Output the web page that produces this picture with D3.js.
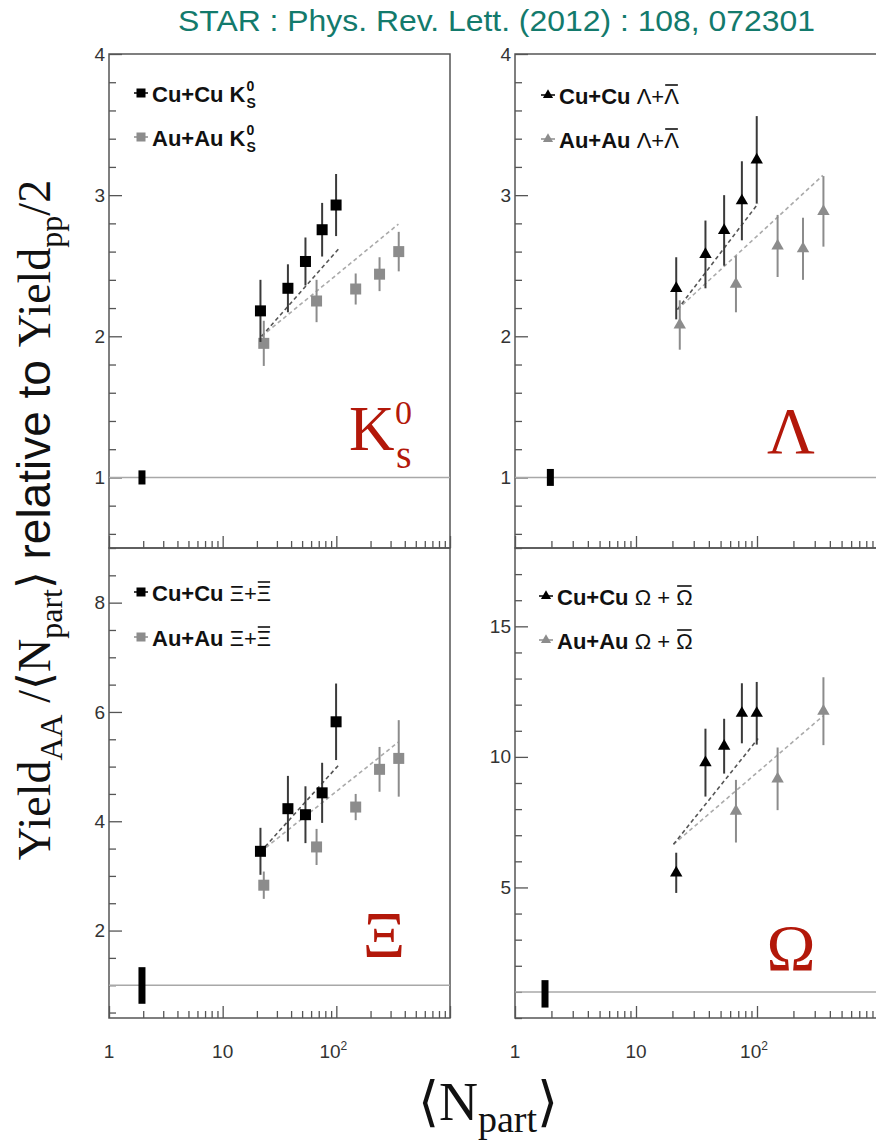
<!DOCTYPE html>
<html><head><meta charset="utf-8">
<script src="https://cdn.jsdelivr.net/npm/d3@7"></script>
<style>body{margin:0;background:#fff}svg{display:block}</style>
</head><body>
<script>
// ---- data ----
const cuNpart = [21.5, 37.5, 53.5, 75, 99.5];
const auNpart = [23, 67, 148, 240, 354];
const auNpartOmega = [67, 148, 354];

const k0Cu = [2.18, 2.34, 2.53, 2.755, 2.93];
const k0CuErr = [0.22, 0.17, 0.17, 0.19, 0.22];
const k0Au = [1.95, 2.25, 2.335, 2.44, 2.60];
const k0AuErr = [0.16, 0.15, 0.11, 0.12, 0.14];

const lamCu = [2.34, 2.58, 2.75, 2.96, 3.25];
const lamCuErr = [0.22, 0.24, 0.25, 0.28, 0.31];
const lamAu = [2.08, 2.37, 2.64, 2.62, 2.885];
const lamAuErr = [0.175, 0.2, 0.22, 0.22, 0.25];

const xiCu = [3.45, 4.23, 4.12, 4.52, 5.82];
const xiCuErr = [0.43, 0.6, 0.52, 0.55, 0.7];
const xiAu = [2.83, 3.53, 4.26, 4.95, 5.15];
const xiAuErr = [0.25, 0.33, 0.24, 0.41, 0.7];

const omCu = [5.56, 9.78, 10.41, 11.67, 11.67];
const omCuErr = [0.77, 1.3, 1.05, 1.15, 1.2];
const omAu = [7.92, 9.16, 11.75];
const omAuErr = [1.2, 1.2, 1.3];

// scaling lines [Npart, value] endpoints
const k0CuLine = [[22, 2.0], [105, 2.62]];
const k0AuLine = [[22, 2.0], [352, 2.795]];
const lamCuLine = [[22, 2.19], [102, 2.94]];
const lamAuLine = [[22, 2.19], [350, 3.14]];
const xiCuLine = [[21.5, 3.44], [105, 5.03]];
const xiAuLine = [[21.5, 3.44], [352, 5.45]];
const omCuLine = [[20.4, 6.65], [102, 10.7]];
const omAuLine = [[20.4, 6.65], [350, 11.56]];

// normalisation uncertainty boxes [Npart, low, high]
const k0Norm = [1.95, 0.95, 1.05];
const lamNorm = [1.96, 0.94, 1.06];
const xiNorm = [1.95, 0.66, 1.33];
const omNorm = [1.77, 0.4, 1.45];

const xTickValues = [1, 10, 100];
const xTickLabels = ["1", "10", "10|2"];
const k0YTicks = [1, 2, 3, 4];
const lamYTicks = [1, 2, 3, 4];
const xiYTicks = [2, 4, 6, 8];
const omYTicks = [5, 10, 15];

const titleText = "STAR : Phys. Rev. Lett. (2012) : 108, 072301";

// ---- drawing ----
const W = 876, H = 1142;
const svg = d3.select("body").append("svg").attr("width", W).attr("height", H);

const SANS = "'Liberation Sans', Arial, Helvetica, sans-serif";
const SERIF = "'Liberation Serif', 'Times New Roman', serif";
const RED = "#b3180a";
const GRAY = "#8c8c8c";

svg.append("text").attr("x", 178).attr("y", 31)
  .attr("font-family", SANS).attr("font-size", 29).attr("fill", "#137a6c")
  .attr("textLength", 637).attr("lengthAdjust", "spacingAndGlyphs")
  .text(titleText);

const panels = [
  {x0:109, x1:450, y0:54, y1:548, xDom:[1,1000], yDom:[0.5,4], yTicks:k0YTicks, yMinor:0.2,
   cu:k0Cu, cuErr:k0CuErr, au:k0Au, auErr:k0AuErr, auN:auNpart, cuLine:k0CuLine, auLine:k0AuLine,
   norm:k0Norm, shape:"square", xLabels:false, particle:"K0", legX:141, legY:[93,137]},
  {x0:515, x1:878, y0:54, y1:548, xDom:[1,1000], yDom:[0.5,4], yTicks:lamYTicks, yMinor:0.2,
   cu:lamCu, cuErr:lamCuErr, au:lamAu, auErr:lamAuErr, auN:auNpart, cuLine:lamCuLine, auLine:lamAuLine,
   norm:lamNorm, shape:"triangle", xLabels:false, particle:"Lam", legX:548, legY:[95,139]},
  {x0:109, x1:450, y0:548, y1:1018, xDom:[1,1000], yDom:[0.4,9], yTicks:xiYTicks, yMinor:0.5,
   cu:xiCu, cuErr:xiCuErr, au:xiAu, auErr:xiAuErr, auN:auNpart, cuLine:xiCuLine, auLine:xiAuLine,
   norm:xiNorm, shape:"square", xLabels:true, particle:"Xi", legX:141, legY:[592,637]},
  {x0:515, x1:878, y0:548, y1:1018, xDom:[1,1000], yDom:[0,18], yTicks:omYTicks, yMinor:1,
   cu:omCu, cuErr:omCuErr, au:omAu, auErr:omAuErr, auN:auNpartOmega, cuLine:omCuLine, auLine:omAuLine,
   norm:omNorm, shape:"triangle", xLabels:true, particle:"Om", legX:546, legY:[596,640]}
];

function minorX(dom) {
  const out = [];
  for (let d = 1; d < dom[1]; d *= 10)
    for (let k = 2; k <= 9; k++) out.push(d * k);
  return out;
}
function minorY(dom, step) {
  const out = [];
  const s = Math.ceil(dom[0] / step - 1e-9);
  for (let i = s; i * step <= dom[1] + 1e-9; i++) out.push(+(i * step).toFixed(4));
  return out;
}

function marker(g, shape, x, y, size, fill) {
  if (shape === "square") {
    g.append("rect").attr("x", x - size/2).attr("y", y - size/2)
      .attr("width", size).attr("height", size).attr("fill", fill);
  } else {
    g.append("path").attr("d", d3.symbol(d3.symbolTriangle, size*size*0.55)())
      .attr("transform", `translate(${x},${y})`).attr("fill", fill);
  }
}

panels.forEach(p => {
  const x = d3.scaleLog().domain(p.xDom).range([p.x0, p.x1]);
  const y = d3.scaleLinear().domain(p.yDom).range([p.y1, p.y0]);
  const g = svg.append("g");
  const clipId = "clip" + p.particle;
  svg.append("clipPath").attr("id", clipId).append("rect")
    .attr("x", p.x0).attr("y", p.y0).attr("width", p.x1 - p.x0).attr("height", p.y1 - p.y0);

  // y axis major + minor (ticks inside)
  const ya = g.append("g").attr("transform", `translate(${p.x0},0)`)
    .call(d3.axisLeft(y).tickValues(p.yTicks).tickSize(-13).tickSizeOuter(0).tickPadding(4)
      .tickFormat(d3.format("d")));
  ya.select(".domain").remove();
  ya.selectAll("line").attr("stroke", "#555").attr("stroke-width", 1.3);
  ya.selectAll("text").attr("font-family", SANS).attr("font-size", 19).attr("fill", "#333");
  const yma = g.append("g").attr("transform", `translate(${p.x0},0)`)
    .call(d3.axisLeft(y).tickValues(minorY(p.yDom, p.yMinor).filter(v => !p.yTicks.includes(v)))
      .tickSize(-7).tickSizeOuter(0).tickFormat(""));
  yma.select(".domain").remove();
  yma.selectAll("line").attr("stroke", "#555").attr("stroke-width", 1.3);

  // x axis major + minor
  const xa = g.append("g").attr("transform", `translate(0,${p.y1})`)
    .call(d3.axisBottom(x).tickValues(xTickValues.concat([1000])).tickSize(-12).tickSizeOuter(0).tickFormat(""));
  xa.select(".domain").remove();
  xa.selectAll("line").attr("stroke", "#555").attr("stroke-width", 1.3);
  const xma = g.append("g").attr("transform", `translate(0,${p.y1})`)
    .call(d3.axisBottom(x).tickValues(minorX(p.xDom)).tickSize(-7).tickSizeOuter(0).tickFormat(""));
  xma.select(".domain").remove();
  xma.selectAll("line").attr("stroke", "#555").attr("stroke-width", 1.3);

  if (p.xLabels) {
    xTickValues.forEach((v, i) => {
      const parts = xTickLabels[i].split("|");
      const t = g.append("text").attr("x", x(v) - (parts[1] ? 3 : 0)).attr("y", p.y1 + 40)
        .attr("text-anchor", "middle").attr("font-family", SANS).attr("font-size", 19).attr("fill", "#333");
      t.append("tspan").text(parts[0]);
      if (parts[1]) t.append("tspan").attr("font-size", 12).attr("dy", -8).text(parts[1]);
    });
  }

  // frame
  g.append("rect").attr("x", p.x0).attr("y", p.y0).attr("width", p.x1 - p.x0).attr("height", p.y1 - p.y0)
    .attr("fill", "none").attr("stroke", "#555").attr("stroke-width", 1.5);

  const inner = g.append("g").attr("clip-path", `url(#${clipId})`);
  // reference line at 1
  inner.append("line").attr("x1", p.x0).attr("x2", p.x1).attr("y1", y(1)).attr("y2", y(1))
    .attr("stroke", "#a8a8a8").attr("stroke-width", 1.5);
  // normalisation box
  inner.append("rect").attr("x", x(p.norm[0]) - 3.5).attr("y", y(p.norm[2]))
    .attr("width", 7).attr("height", y(p.norm[1]) - y(p.norm[2])).attr("fill", "#000");

  // scaling lines
  const ln = d3.line().x(d => x(d[0])).y(d => y(d[1]));
  inner.append("path").attr("d", ln(p.auLine)).attr("fill", "none")
    .attr("stroke", "#aaa").attr("stroke-width", 1.6).attr("stroke-dasharray", "4,3");
  inner.append("path").attr("d", ln(p.cuLine)).attr("fill", "none")
    .attr("stroke", "#555").attr("stroke-width", 1.6).attr("stroke-dasharray", "4,3");

  // data: Au+Au (gray) then Cu+Cu (black)
  const series = [
    {n:p.auN, v:p.au, e:p.auErr, fill:GRAY, bar:GRAY},
    {n:cuNpart, v:p.cu, e:p.cuErr, fill:"#000", bar:"#3a3a3a"}
  ];
  series.forEach(s => {
    s.v.forEach((v, i) => {
      inner.append("line").attr("x1", x(s.n[i])).attr("x2", x(s.n[i]))
        .attr("y1", y(v - s.e[i])).attr("y2", y(v + s.e[i]))
        .attr("stroke", s.bar).attr("stroke-width", 2);
    });
    s.v.forEach((v, i) => marker(inner, p.shape, x(s.n[i]), y(v), 11, s.fill));
  });

  // legend
  const legSeg = {
    K0: [[{t:"Cu+Cu K", b:true}, {sup:"0", sub:"S"}], [{t:"Au+Au K", b:true}, {sup:"0", sub:"S"}]],
    Lam: [[{t:"Cu+Cu ", b:true}, {t:"Λ+"}, {t:"Λ", bar:true}], [{t:"Au+Au ", b:true}, {t:"Λ+"}, {t:"Λ", bar:true}]],
    Xi: [[{t:"Cu+Cu ", b:true}, {t:"Ξ+"}, {t:"Ξ", bar:true}], [{t:"Au+Au ", b:true}, {t:"Ξ+"}, {t:"Ξ", bar:true}]],
    Om: [[{t:"Cu+Cu ", b:true}, {t:"Ω + "}, {t:"Ω", bar:true}], [{t:"Au+Au ", b:true}, {t:"Ω + "}, {t:"Ω", bar:true}]]
  }[p.particle];
  const legFill = ["#000", GRAY];
  legSeg.forEach((row, r) => {
    const ly = p.legY[r];
    g.append("line").attr("x1", p.legX - 7).attr("x2", p.legX + 7).attr("y1", ly).attr("y2", ly)
      .attr("stroke", legFill[r]).attr("stroke-width", 1.5);
    marker(g, p.shape, p.legX, ly, 9, legFill[r]);
    let cx = p.legX + 11;
    const base = ly + 9;
    row.forEach(seg => {
      if (seg.t !== undefined) {
        const t = g.append("text").attr("x", cx).attr("y", base).attr("font-family", SANS)
          .attr("font-size", 22).attr("font-weight", seg.b ? "bold" : "normal").attr("fill", "#111")
          .attr("xml:space", "preserve").style("white-space", "pre").text(seg.t);
        const w = t.node().getComputedTextLength();
        if (seg.bar) g.append("line").attr("x1", cx + 1).attr("x2", cx + w - 1)
          .attr("y1", base - 19).attr("y2", base - 19).attr("stroke", "#111").attr("stroke-width", 1.6);
        cx += w;
      } else {
        const t = g.append("text").attr("x", cx + 1).attr("y", base).attr("font-family", SANS)
          .attr("font-size", 14).attr("font-weight", "bold").attr("fill", "#111");
        t.append("tspan").attr("x", cx + 1).attr("dy", -11).text(seg.sup);
        t.append("tspan").attr("x", cx + 1).attr("dy", 17).text(seg.sub);
      }
    });
  });

  // big particle label
  if (p.particle === "K0") {
    g.append("text").attr("x", 349).attr("y", 450).attr("font-family", SERIF)
      .attr("font-size", 63).attr("fill", RED).text("K");
    g.append("text").attr("x", 395).attr("y", 424).attr("font-family", SERIF)
      .attr("font-size", 34).attr("fill", RED).text("0");
    g.append("text").attr("x", 396).attr("y", 468).attr("font-family", SERIF)
      .attr("font-size", 40).attr("fill", RED).text("s");
  } else {
    const lab = {Lam:["Λ", 791, 453], Xi:["Ξ", 384, 957], Om:["Ω", 791, 970]}[p.particle];
    g.append("text").attr("x", lab[1]).attr("y", lab[2]).attr("text-anchor", "middle")
      .attr("font-family", SERIF).attr("font-size", 66).attr("fill", RED).text(lab[0]);
  }
});

// partial axis title fragment at right
svg.append("clipPath").attr("id", "nclip").append("rect").attr("x", 800).attr("y", 1030).attr("width", 60).attr("height", 13);
svg.append("text").attr("x", 815).attr("y", 1058).attr("font-family", SANS).attr("font-size", 19)
  .attr("fill", "#333").attr("clip-path", "url(#nclip)").text("N");

// x axis title
const xt = svg.append("text").attr("x", 488).attr("y", 1120).attr("text-anchor", "middle")
  .attr("font-family", SERIF).attr("font-size", 54).attr("fill", "#111");
xt.append("tspan").text("⟨N");
xt.append("tspan").attr("font-size", 38).attr("dy", 12).text("part");
xt.append("tspan").attr("dy", -12).text("⟩");

// y axis title
const yt = svg.append("text").attr("transform", "translate(50,520) rotate(-90)")
  .attr("text-anchor", "middle").attr("font-family", SERIF).attr("font-size", 46).attr("fill", "#111");
yt.append("tspan").text("Yield");
yt.append("tspan").attr("font-size", 32).attr("dy", 12).text("AA");
yt.append("tspan").attr("dy", -12).text(" /⟨N");
yt.append("tspan").attr("font-size", 32).attr("dy", 12).text("part");
yt.append("tspan").attr("dy", -12).text("⟩ ");
yt.append("tspan").attr("font-family", SANS).text("relative to ");
yt.append("tspan").text("Yield");
yt.append("tspan").attr("font-size", 32).attr("dy", 12).text("pp");
yt.append("tspan").attr("dy", -12).text("/2");
</script>
</body></html>
